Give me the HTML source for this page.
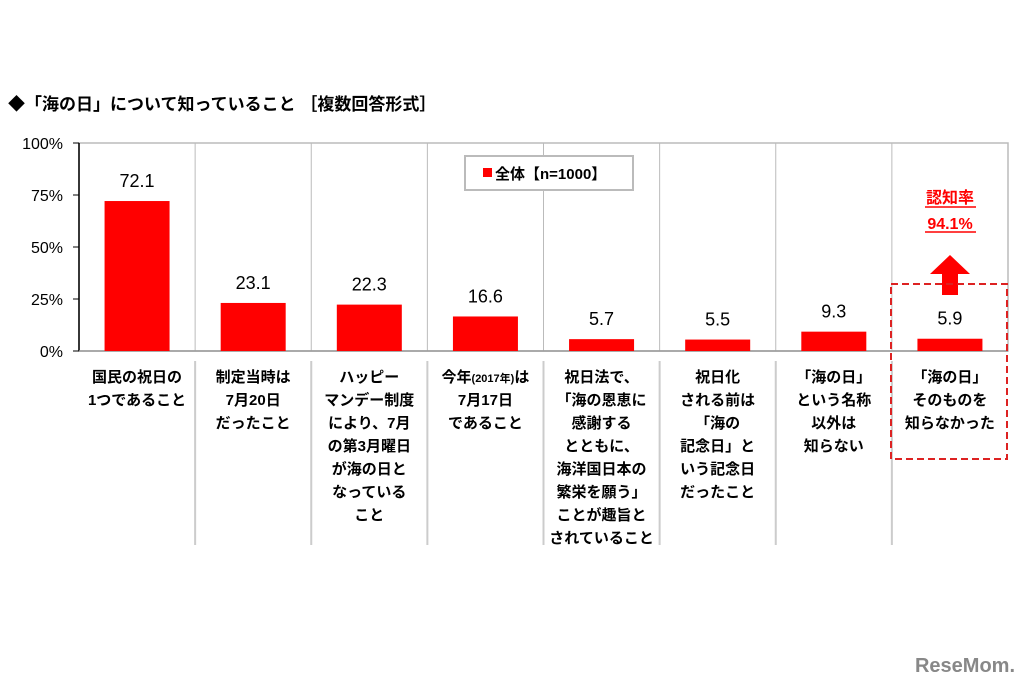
<!DOCTYPE html>
<html><head><meta charset="utf-8"><style>
body{margin:0;background:#fff;}
svg{display:block;font-family:"Liberation Sans","Noto Sans CJK JP",sans-serif;}
</style></head><body>
<svg id="chart" width="1035" height="690">
<text x="8" y="110" font-size="17" font-weight="bold" fill="#000">◆「海の日」について知っていること ［複数回答形式］</text>
<g id="plot"></g>
<g id="legend">
<rect x="465" y="156" width="168" height="34" fill="#fff" stroke="#bbb" stroke-width="2"/>
<rect x="483" y="168" width="9" height="9" fill="#ff0000"/>
<text x="495" y="179" font-size="15" font-weight="bold">全体【n=1000】</text>
</g>
<g>
<text x="950" y="203" font-size="16" font-weight="bold" fill="#ff0000" text-anchor="middle">認知率</text>
<line x1="925" y1="207" x2="976" y2="207" stroke="#ff0000" stroke-width="1.5"/>
<text x="950" y="229" font-size="16" font-weight="bold" fill="#ff0000" text-anchor="middle">94.1%</text>
<line x1="925" y1="232" x2="976" y2="232" stroke="#ff0000" stroke-width="1.5"/>
<polygon points="950,255 970,274 958,274 958,295 942,295 942,274 930,274" fill="#ff0000"/>
<rect x="891" y="284" width="116" height="175" fill="none" stroke="#d22" stroke-width="2" stroke-dasharray="7,4"/>
</g>
<text x="1015" y="672" font-size="20" font-weight="bold" fill="#888" text-anchor="end">ReseMom.</text>
</svg>
<script>
const categories=[
["国民の祝日の","1つであること"],
["制定当時は","7月20日","だったこと"],
["ハッピー","マンデー制度","により、7月","の第3月曜日","が海の日と","なっている","こと"],
["今年(2017年)は","7月17日","であること"],
["祝日法で、","「海の恩恵に","感謝する","とともに、","海洋国日本の","繁栄を願う」","ことが趣旨と","されていること"],
["祝日化","される前は","「海の","記念日」と","いう記念日","だったこと"],
["「海の日」","という名称","以外は","知らない"],
["「海の日」","そのものを","知らなかった"]];
const values=[72.1,23.1,22.3,16.6,5.7,5.5,9.3,5.9];
const labels=["72.1","23.1","22.3","16.6","5.7","5.5","9.3","5.9"];
const ticks=[0,25,50,75,100];
const X0=79,X1=1008,Y0=351,Y1=143,NS="http://www.w3.org/2000/svg";
const g=document.getElementById('plot');
const cw=(X1-X0)/categories.length;
const y=v=>Y0-(v/100)*(Y0-Y1);
const xc=i=>X0+cw*(i+0.5);
function mk(t,a,p){const e=document.createElementNS(NS,t);for(const k in a)e.setAttribute(k,a[k]);(p||g).appendChild(e);return e;}
mk('rect',{x:X0,y:Y1,width:X1-X0,height:Y0-Y1,fill:'none',stroke:'#bbb','stroke-width':1.5});
for(let i=1;i<categories.length;i++){
 const l=mk('line',{x1:X0+cw*i,x2:X0+cw*i,y1:Y1,y2:Y0,stroke:'#bbb','stroke-width':1});
 
 
 const s=mk('line',{x1:X0+cw*i,x2:X0+cw*i,y1:361,y2:545,stroke:'#ccc','stroke-width':2});
 
 
}
mk('line',{x1:X0,x2:X0,y1:Y1,y2:Y0,stroke:'#000','stroke-width':1.5});
mk('line',{x1:X0,x2:X1,y1:Y0,y2:Y0,stroke:'#999','stroke-width':1.5});
ticks.forEach(t=>{
 mk('line',{x1:X0-6,x2:X0,y1:y(t),y2:y(t),stroke:'#000','stroke-width':1});
 const tx=mk('text',{x:63,y:y(t)+6,'font-size':16,'text-anchor':'end',fill:'#000'});
 tx.textContent=t+'%';
 
 
});
values.forEach((v,i)=>{
 const b=mk('rect',{x:xc(i)-32.5,y:y(v),width:65,height:Y0-y(v),fill:'#ff0000'});
 
 
 const vl=mk('text',{x:xc(i),y:y(v)-14,'font-size':18,'text-anchor':'middle',fill:'#000'});
 vl.textContent=labels[i];
 
 
 categories[i].forEach((ln,j)=>{
  const t=mk('text',{x:xc(i),y:382+j*23,'font-size':15,'font-weight':'bold','text-anchor':'middle',fill:'#000'});
  const m=ln.match(/^(.*)(\(2017年\))(.*)$/);
  if(m){
   t.appendChild(document.createTextNode(m[1]));
   const sp=mk('tspan',{'font-size':11},t);sp.textContent=m[2];
   t.appendChild(document.createTextNode(m[3]));
  } else t.textContent=ln;
  
  
 });
});
</script>
</body></html>
